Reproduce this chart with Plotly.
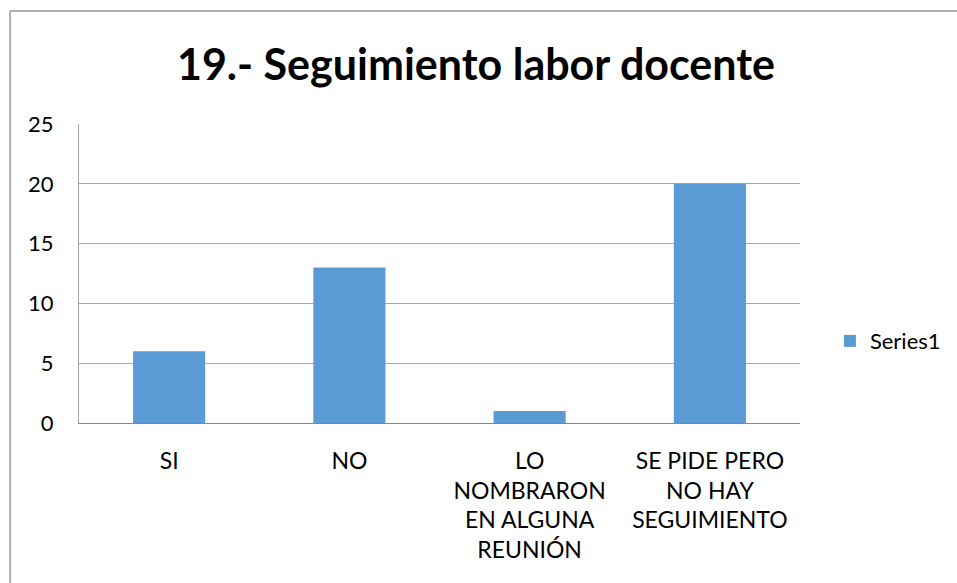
import plotly.graph_objects as go

categories = ["SI", "NO", "LO<br>NOMBRARON<br>EN ALGUNA<br>REUNIÓN", "SE PIDE PERO<br>NO HAY<br>SEGUIMIENTO"]
values = [6, 13, 1, 20]
series_name = "Series1"
y_ticks = [0, 5, 10, 15, 20, 25]
title_text = "19.- Seguimiento labor docente"

FONT = "Lato, 'Open Sans', sans-serif"

fig = go.Figure()
fig.add_trace(go.Bar(
    x=categories, y=values, name=series_name,
    marker=dict(color="#5B9BD5", line=dict(width=0)),
    showlegend=True,
))

border = dict(color="#AFAFAF", width=2)
fig.update_layout(
    width=957, height=583,
    margin=dict(l=79, r=156, t=124, b=160),
    paper_bgcolor="white", plot_bgcolor="white",
    bargap=0.6,
    title=dict(text=title_text, x=476 / 957, xanchor="center", y=1 - 65 / 583, yanchor="middle",
               font=dict(family=FONT, size=43, color="#000000", weight="bold")),
    font=dict(family=FONT, size=22, color="#000000"),
    xaxis=dict(showgrid=False, showline=True, linecolor="#868686", linewidth=1,
               ticks="", tickfont=dict(size=23), ticklabelstandoff=17, fixedrange=True),
    yaxis=dict(range=[0, 25], tickvals=y_ticks, showgrid=True, gridcolor="#A6A6A6",
               gridwidth=1, showline=True, linecolor="#A6A6A6", zeroline=False,
               ticks="", ticklabelstandoff=20, tickfont=dict(size=22)),
    legend=dict(x=1.040, xanchor="left", y=0.274, yanchor="middle",
                font=dict(size=22), itemwidth=30, bgcolor="rgba(0,0,0,0)"),
    shapes=[
        dict(type="line", xref="paper", yref="paper", x0=-0.0956, x1=1.3,
             y0=1.378, y1=1.378, line=border, layer="below"),
        dict(type="line", xref="paper", yref="paper", x0=-0.0956, x1=-0.0956,
             y0=-1.0, y1=1.378, line=border, layer="below"),
    ],
)

fig.write_html(
    "out.html",
    config={"displayModeBar": False},
    post_script="document.body.style.margin='0';document.body.style.overflow='hidden';"
                "document.documentElement.style.overflow='hidden';",
)
